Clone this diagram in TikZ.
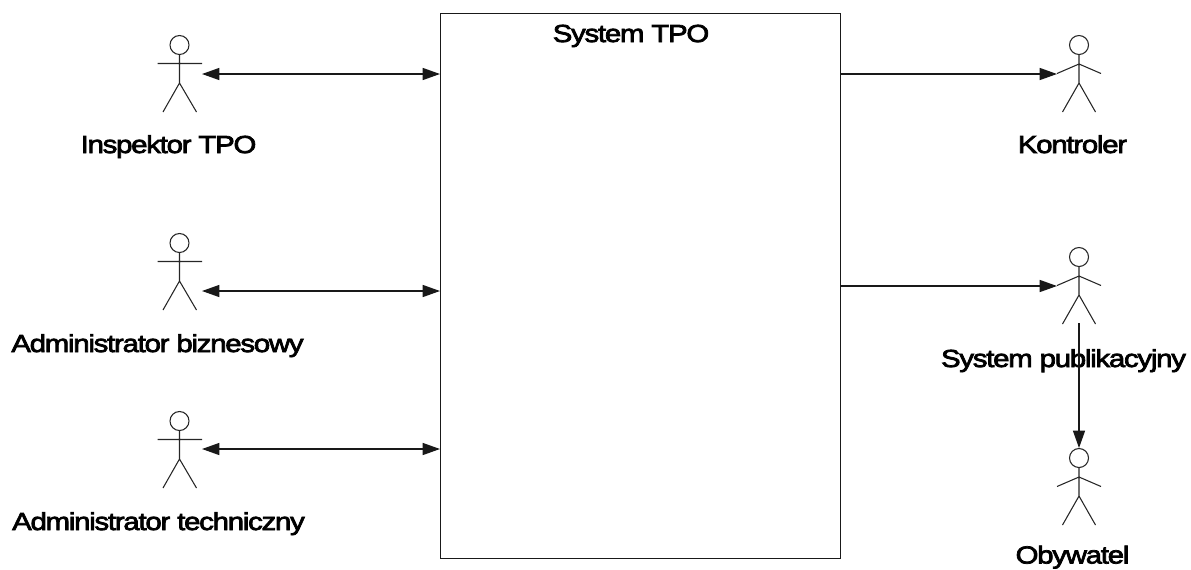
\documentclass[tikz,border=0pt]{standalone}
\usepackage{fontspec}
\setmainfont{Liberation Sans}
\newfontfamily\labfont[FakeBold=3,LetterSpace=-5,FakeStretch=1.19]{Liberation Sans}
\usetikzlibrary{arrows.meta}
\tikzset{
  x=0.75pt,y=-0.75pt,
  stick/.style={draw=black!85,line width=0.8pt},
  conn/.style={draw=black!90,line width=1pt},
  tip/.style={-{Triangle[length=13pt,width=9pt]}},
  tips/.style={{Triangle[length=13pt,width=9pt]}-{Triangle[length=13pt,width=9pt]}},
  lab/.style={font=\labfont\fontsize{18.5pt}{22pt}\selectfont,text=black,inner sep=0pt,anchor=base},
  frame/.style={draw=black!90,line width=1pt,fill=white},
  actorl/.pic={
    \draw[stick] (0,0) circle[radius=9.5];
    \draw[stick] (0,9.5) -- (0,38) (-22,18.5) -- (22.5,18.5) (-16.5,67) -- (0,38) -- (17,67);
    \coordinate (-hand) at (22.5,29);
  },
  actorr/.pic={
    \draw[stick] (0,0) circle[radius=9.5];
    \draw[stick] (0,9.5) -- (0,38) (-22,28.5) -- (0,19) -- (22,28.5) (-16.5,67) -- (0,38) -- (16.5,67);
    \coordinate (-hand) at (-22,29);
    \coordinate (-top) at (0,-10);
    \coordinate (-foot) at (0,66);
  }
}
\begin{document}
\begin{tikzpicture}
\useasboundingbox (0,0) rectangle (1191,569);
\node[frame,minimum width=300pt,minimum height=408.75pt,inner sep=0pt,anchor=north west] (sys) at (440,13) {};
\node[lab] (systitle) at (631,42) {System TPO};
\coordinate (la) at (440,74);
\coordinate (lb) at (440,291);
\coordinate (lc) at (440,449);
\coordinate (ra) at (840,74);
\coordinate (rb) at (840,286);

\pic (insp) at (179.5,45) {actorl};
\pic (biz) at (179.5,243) {actorl};
\pic (tech) at (179.5,421) {actorl};
\pic (kon) at (1079,45) {actorr};
\pic (pub) at (1079,257) {actorr};
\pic (oby) at (1079,458) {actorr};

\node[lab] (linsp) at (168.5,153) {Inspektor TPO};
\node[lab] (lbiz) at (157.5,352) {Administrator biznesowy};
\node[lab] (ltech) at (158.5,530) {Administrator techniczny};
\node[lab] (lkon) at (1072.5,153) {Kontroler};
\node[lab] (lpub) at (1063.5,367) {System publikacyjny};
\node[lab] (loby) at (1072.5,563.5) {Obywatel};

\draw[conn,tips] (insp-hand) -- (la);
\draw[conn,tips] (biz-hand |- lb) -- (lb);
\draw[conn,tips] (tech-hand |- lc) -- (lc);
\draw[conn,tip] (ra) -- (kon-hand);
\draw[conn,tip] (rb) -- (pub-hand);
\draw[conn,tip] (pub-foot) -- (oby-top);
\end{tikzpicture}
\end{document}
